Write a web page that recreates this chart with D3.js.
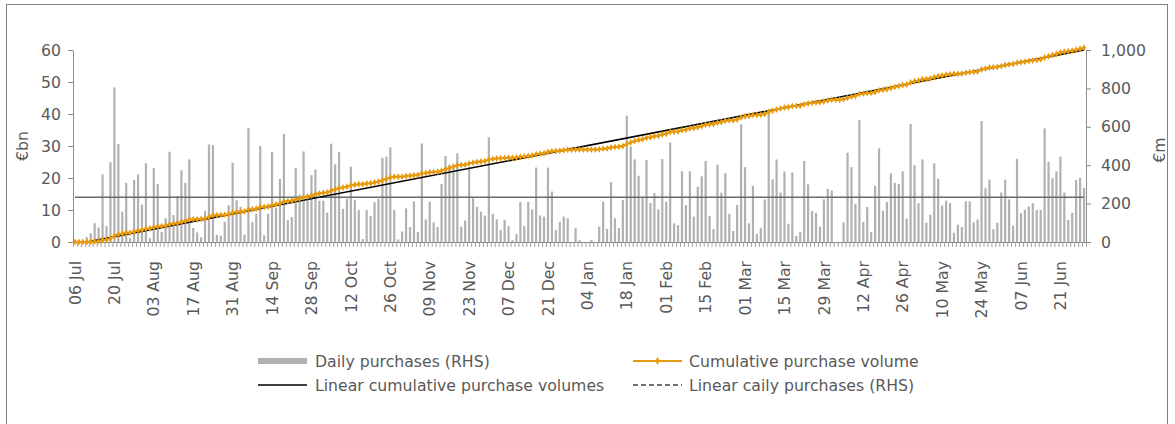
<!DOCTYPE html>
<html>
<head>
<meta charset="utf-8">
<script src="https://cdn.jsdelivr.net/npm/d3@7/dist/d3.min.js"></script>
<style>
  html, body { margin: 0; padding: 0; background: #fff; }
  svg { display: block; }
  text { font-family: "DejaVu Sans", Verdana, sans-serif; fill: #595959; }
</style>
</head>
<body>
<svg id="chart" width="1175" height="424"></svg>
<script>
// ---------------- DATA ----------------
// Business days (categories) from 06 Jul 2020, 257 trading days
const startDate = "2020-07-06";
const nDays = 257;

// Daily purchases, EUR m (RHS)
const dailyPurchases = [
  0, 0, 0, 25, 45, 98, 75, 352, 83, 415,
  805, 510, 158, 308, 20, 323, 352, 195, 410, 20,
  385, 302, 52, 125, 470, 140, 240, 373, 308, 430,
  73, 50, 25, 162, 508, 505, 38, 32, 105, 192,
  413, 218, 183, 38, 593, 105, 147, 500, 35, 147,
  468, 177, 328, 563, 113, 130, 385, 247, 472, 225,
  348, 378, 215, 215, 153, 512, 405, 468, 172, 225,
  392, 220, 167, 15, 167, 135, 208, 225, 438, 445,
  493, 167, 13, 55, 175, 78, 212, 53, 513, 117,
  210, 102, 78, 302, 448, 403, 403, 462, 80, 112,
  392, 228, 183, 158, 137, 545, 147, 118, 63, 115,
  83, 10, 42, 208, 83, 208, 170, 388, 138, 132,
  387, 263, 63, 105, 132, 123, 0, 72, 10, 0,
  0, 10, 0, 80, 210, 68, 312, 123, 72, 218,
  658, 497, 430, 345, 232, 427, 203, 255, 170, 432,
  210, 518, 97, 88, 368, 192, 368, 132, 288, 342,
  422, 135, 67, 403, 257, 358, 147, 57, 193, 613,
  390, 97, 292, 42, 72, 222, 675, 327, 430, 258,
  367, 95, 362, 32, 52, 422, 300, 162, 152, 80,
  222, 277, 268, 0, 0, 102, 465, 390, 198, 635,
  105, 182, 52, 292, 488, 163, 208, 357, 308, 302,
  368, 122, 615, 400, 202, 430, 100, 142, 410, 330,
  190, 215, 203, 48, 90, 78, 212, 212, 102, 117,
  630, 280, 325, 67, 100, 258, 325, 222, 85, 433,
  150, 168, 185, 202, 167, 167, 592, 418, 332, 368,
  445, 258, 115, 152, 323, 335, 282
];

// Linear cumulative purchase volume trend (EUR bn, LHS): start/end category index and value
const trendIndex = [3, 256];
const trendValue = [0, 60];

// Linear daily purchases (average, EUR m, RHS)
const avgDaily = [233];

// Axis ticks
const leftTicks = [0, 10, 20, 30, 40, 50, 60];
const rightTicks = [0, 200, 400, 600, 800, 1000];
const xTickLabels = ["06 Jul","20 Jul","03 Aug","17 Aug","31 Aug","14 Sep","28 Sep","12 Oct","26 Oct",
  "09 Nov","23 Nov","07 Dec","21 Dec","04 Jan","18 Jan","01 Feb","15 Feb","01 Mar","15 Mar","29 Mar",
  "12 Apr","26 Apr","10 May","24 May","07 Jun","21 Jun"];

// ---------------- BUILD ----------------
const fmt = d3.utcFormat("%d %b");
const allDays = d3.utcDay.range(new Date(startDate + "T00:00:00Z"), new Date("2021-12-31T00:00:00Z"))
  .filter(d => d.getUTCDay() !== 0 && d.getUTCDay() !== 6)
  .slice(0, nDays);
const categories = allDays.map(fmt);

let run = 0;
const cumulative = dailyPurchases.map(v => (run += v) / 1000); // EUR bn

const svg = d3.select("#chart");
const FONT = 15.7;
const pLeft = 73, pRight = 1086, pTop = 50, pBottom = 242;

const x = d3.scaleBand().domain(categories).range([pLeft, pRight]).padding(0);
const bw = x.bandwidth();
const cx = c => x(c) + bw / 2;
const yL = d3.scaleLinear().domain([0, 60]).range([pBottom, pTop]);
const yR = d3.scaleLinear().domain([0, 1000]).range([pBottom, pTop]);

// outer frame
svg.append("rect").attr("x", 6.5).attr("y", 4.5).attr("width", 1161).attr("height", 440)
  .attr("fill", "none").attr("stroke", "#808080").attr("stroke-width", 1);

// bars
svg.append("g").selectAll("rect").data(dailyPurchases).join("rect")
  .attr("x", (d, i) => cx(categories[i]) - 1.1)
  .attr("width", 2.2)
  .attr("y", d => yR(d))
  .attr("height", d => yR(0) - yR(d))
  .attr("fill", "#b1b1b1");

// average daily line (RHS)
svg.append("line")
  .attr("x1", cx(categories[0])).attr("x2", cx(categories[nDays - 1]))
  .attr("y1", yR(avgDaily[0])).attr("y2", yR(avgDaily[0]))
  .attr("stroke", "#6a6a6a").attr("stroke-width", 1.3);

// axes
const axisColor = "#8c8c8c";
const gL = svg.append("g").attr("transform", `translate(${pLeft},0)`)
  .call(d3.axisLeft(yL).tickValues(leftTicks).tickSize(5).tickSizeOuter(0).tickPadding(7));
const gR = svg.append("g").attr("transform", `translate(${pRight},0)`)
  .call(d3.axisRight(yR).tickValues(rightTicks).tickFormat(d3.format(",")).tickSize(5).tickSizeOuter(0).tickPadding(10));
[gL, gR].forEach(g => {
  g.select(".domain").attr("stroke", axisColor);
  g.selectAll(".tick line").attr("stroke", axisColor);
  g.selectAll("text").attr("font-size", FONT).attr("fill", "#595959").attr("font-family", "DejaVu Sans");
});

// x axis: baseline + tick at every category boundary
const gX = svg.append("g");
gX.append("line").attr("x1", pLeft).attr("x2", pRight).attr("y1", pBottom + 0.5).attr("y2", pBottom + 0.5)
  .attr("stroke", axisColor);
gX.selectAll("line.tk").data(categories.concat(["__end"])).join("line").attr("class", "tk")
  .attr("x1", (c, i) => (i < nDays ? x(c) : pRight) + 0.5)
  .attr("x2", (c, i) => (i < nDays ? x(c) : pRight) + 0.5)
  .attr("y1", pBottom).attr("y2", pBottom + 5)
  .attr("stroke", axisColor).attr("stroke-width", 0.8);
gX.selectAll("text").data(xTickLabels).join("text")
  .attr("transform", d => `translate(${cx(d)},261) rotate(-90)`)
  .attr("text-anchor", "end").attr("dy", "0.36em")
  .attr("font-size", FONT).text(d => d);

// axis titles
svg.append("text").attr("transform", "translate(22,146) rotate(-90)")
  .attr("text-anchor", "middle").attr("dy", "0.36em").attr("font-size", FONT).text("€bn");
svg.append("text").attr("transform", "translate(1159,150) rotate(-90)")
  .attr("text-anchor", "middle").attr("dy", "0.36em").attr("font-size", FONT).text("€m");

// linear cumulative trend (LHS)
svg.append("path")
  .datum(trendIndex.map((k, j) => [cx(categories[k]), yL(trendValue[j])]))
  .attr("d", d3.line())
  .attr("fill", "none").attr("stroke", "#000").attr("stroke-width", 1.6);

// cumulative line + markers (LHS)
const orange = "#E69A0F";
svg.append("path").datum(cumulative)
  .attr("d", d3.line().x((d, i) => cx(categories[i])).y(d => yL(d)))
  .attr("fill", "none").attr("stroke", orange).attr("stroke-width", 2);
svg.append("g").selectAll("path").data(cumulative).join("path")
  .attr("transform", (d, i) => `translate(${cx(categories[i])},${yL(d)})`)
  .attr("d", d3.symbol(d3.symbolDiamond, 14))
  .attr("fill", orange);

// legend
const lg = svg.append("g");
const r1 = 361, r2 = 385;
lg.append("rect").attr("x", 258).attr("y", r1 - 3).attr("width", 49).attr("height", 6).attr("fill", "#b1b1b1");
lg.append("text").attr("x", 315).attr("y", r1).attr("dy", "0.36em").attr("font-size", FONT).text("Daily purchases (RHS)");
lg.append("line").attr("x1", 258).attr("x2", 307).attr("y1", r2).attr("y2", r2).attr("stroke", "#000").attr("stroke-width", 1.6);
lg.append("text").attr("x", 315).attr("y", r2).attr("dy", "0.36em").attr("font-size", FONT).text("Linear cumulative purchase volumes");
lg.append("line").attr("x1", 633).attr("x2", 682).attr("y1", r1).attr("y2", r1).attr("stroke", orange).attr("stroke-width", 2);
lg.append("path").attr("transform", `translate(657.5,${r1})`).attr("d", d3.symbol(d3.symbolDiamond, 18)).attr("fill", orange);
lg.append("text").attr("x", 689).attr("y", r1).attr("dy", "0.36em").attr("font-size", FONT).text("Cumulative purchase volume");
lg.append("line").attr("x1", 633).attr("x2", 682).attr("y1", r2).attr("y2", r2).attr("stroke", "#404040").attr("stroke-width", 1.3).attr("stroke-dasharray", "5,3");
lg.append("text").attr("x", 689).attr("y", r2).attr("dy", "0.36em").attr("font-size", FONT).text("Linear caily purchases (RHS)");
</script>
</body>
</html>
